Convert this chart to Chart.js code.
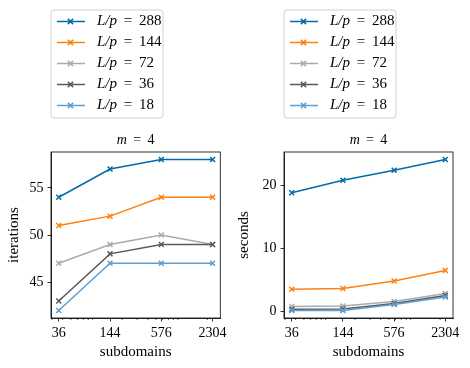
<!DOCTYPE html>
<html>
<head>
<meta charset="utf-8">
<script src="https://cdn.jsdelivr.net/npm/chart.js@4.4.0/dist/chart.umd.min.js"></script>
<style>
  body { margin: 0; background: #fff; }
  #wrap { position: relative; width: 470px; height: 368px; overflow: hidden; }
  canvas { position: absolute; top: 0; }
</style>
</head>
<body>
<div id="wrap">
  <canvas id="left" width="230" height="368" style="left:0"></canvas>
  <canvas id="right" width="240" height="368" style="left:230px"></canvas>
</div>
<script>
const subdomains = [36, 144, 576, 2304];
const ratios = ['288', '144', '72', '36', '18'];
const colors = ['#006BA4', '#FF800E', '#ABABAB', '#595959', '#5F9ED1'];

const iterations288 = [54, 57, 58, 58];
const iterations144 = [51, 52, 54, 54];
const iterations72 = [47, 49, 50, 49];
const iterations36 = [43, 48, 49, 49];
const iterations18 = [42, 47, 47, 47];

const seconds288 = [18.9, 20.9, 22.5, 24.2];
const seconds144 = [3.5, 3.6, 4.8, 6.5];
const seconds72 = [0.75, 0.8, 1.55, 2.8];
const seconds36 = [0.3, 0.35, 1.2, 2.5];
const seconds18 = [0.1, 0.1, 1.05, 2.25];

const iterTicks = [45, 50, 55];
const secTicks = [0, 10, 20];
const minorX = [30, 40, 50, 60, 70, 80, 90, 200, 300, 400, 500, 600, 700, 800, 900, 2000];

const SERIF = '"Liberation Serif", "DejaVu Serif", serif';
const EQ = '\u2009 = \u2009';

// draws pieces of text with their own style, left to right
function drawRich(ctx, parts, x, y, size, align) {
  let total = 0;
  parts.forEach(p => {
    ctx.font = (p[1] ? 'italic ' : '') + size + 'px ' + SERIF;
    total += ctx.measureText(p[0]).width;
  });
  let cx = align === 'center' ? x - total / 2 : x;
  ctx.textBaseline = 'middle';
  ctx.textAlign = 'left';
  parts.forEach(p => {
    ctx.font = (p[1] ? 'italic ' : '') + size + 'px ' + SERIF;
    ctx.fillText(p[0], cx, y);
    cx += ctx.measureText(p[0]).width;
  });
}

function roundRect(ctx, x, y, w, h, r) {
  ctx.beginPath();
  ctx.moveTo(x + r, y);
  ctx.lineTo(x + w - r, y);
  ctx.quadraticCurveTo(x + w, y, x + w, y + r);
  ctx.lineTo(x + w, y + h - r);
  ctx.quadraticCurveTo(x + w, y + h, x + w - r, y + h);
  ctx.lineTo(x + r, y + h);
  ctx.quadraticCurveTo(x, y + h, x, y + h - r);
  ctx.lineTo(x, y + r);
  ctx.quadraticCurveTo(x, y, x + r, y);
  ctx.closePath();
}

const decorPlugin = {
  id: 'decor',
  afterDraw(chart) {
    const ctx = chart.ctx;
    const a = chart.chartArea;
    const xs = chart.scales.x;
    ctx.save();

    // frame
    ctx.strokeStyle = '#000';
    ctx.lineWidth = 0.8;
    ctx.strokeRect(a.left, a.top, a.right - a.left, a.bottom - a.top);

    // minor ticks on the log axis
    ctx.lineWidth = 0.6;
    minorX.forEach(v => {
      const px = xs.getPixelForValue(v);
      if (px < a.left || px > a.right) return;
      ctx.beginPath();
      ctx.moveTo(px, a.bottom);
      ctx.lineTo(px, a.bottom + 2);
      ctx.stroke();
    });

    // title
    ctx.fillStyle = '#000';
    drawRich(ctx, [['m', true], [EQ + '4', false]], (a.left + a.right) / 2, a.top - 12, 14, 'center');

    // legend
    const lx = a.left, ly = 10, lw = 112, lh = 108;
    roundRect(ctx, lx, ly, lw, lh, 3);
    ctx.fillStyle = 'rgba(255,255,255,0.8)';
    ctx.fill();
    ctx.strokeStyle = '#d0d0d0';
    ctx.lineWidth = 1;
    ctx.stroke();
    chart.data.datasets.forEach((ds, i) => {
      const y = ly + 11.5 + i * 21;
      ctx.strokeStyle = ds.borderColor;
      ctx.lineWidth = 1.5;
      ctx.beginPath();
      ctx.moveTo(lx + 6, y);
      ctx.lineTo(lx + 34, y);
      ctx.stroke();
      const mx = lx + 19.5, r = 2.6;
      ctx.beginPath();
      ctx.moveTo(mx - r, y - r); ctx.lineTo(mx + r, y + r);
      ctx.moveTo(mx - r, y + r); ctx.lineTo(mx + r, y - r);
      ctx.stroke();
      ctx.fillStyle = '#000';
      drawRich(ctx, [['L/p', true], [EQ + ratios[i], false]], lx + 46, y, 15, 'left');
    });
    ctx.restore();
  }
};

function makeChart(id, series, ticks, yMin, yMax, yTitle, yWidth, padRight) {
  const datasets = series.map((vals, i) => ({
    label: 'L/p = ' + ratios[i],
    data: vals.map((v, j) => ({ x: subdomains[j], y: v })),
    borderColor: colors[i],
    backgroundColor: colors[i],
    borderWidth: 1.5,
    pointStyle: 'crossRot',
    pointRadius: 3.5,
    pointBorderWidth: 1.5,
    tension: 0,
    order: series.length - i
  }));
  return new Chart(document.getElementById(id), {
    type: 'line',
    data: { datasets },
    options: {
      responsive: false,
      animation: false,
      layout: { padding: { top: 152, right: padRight, bottom: 0, left: 0 } },
      plugins: { legend: { display: false }, tooltip: { enabled: false } },
      scales: {
        x: {
          type: 'logarithmic',
          min: 29.2,
          max: 2837,
          afterBuildTicks: s => { s.ticks = subdomains.map(v => ({ value: v })); },
          afterFit: s => { s.height = 50; },
          ticks: {
            color: '#000',
            font: { family: SERIF, size: 14 },
            padding: 3,
            maxRotation: 0,
            callback: v => String(v)
          },
          grid: { drawOnChartArea: false, drawTicks: true, tickLength: 3.5, tickColor: '#000', tickWidth: 0.8 },
          border: { display: true, color: '#000', width: 0.8 },
          title: { display: true, text: 'subdomains', color: '#000', font: { family: SERIF, size: 15 }, padding: { top: 0, bottom: 7 } }
        },
        y: {
          type: 'linear',
          min: yMin,
          max: yMax,
          afterBuildTicks: s => { s.ticks = ticks.map(v => ({ value: v })); },
          afterFit: s => { s.width = yWidth; },
          ticks: {
            color: '#000',
            font: { family: SERIF, size: 14 },
            padding: 4
          },
          grid: { drawOnChartArea: false, drawTicks: true, tickLength: 3.5, tickColor: '#000', tickWidth: 0.8 },
          border: { display: true, color: '#000', width: 0.8 },
          title: { display: true, text: yTitle, color: '#000', font: { family: SERIF, size: 15 }, padding: { top: 5, bottom: 0 } }
        }
      }
    },
    plugins: [decorPlugin]
  });
}

makeChart('left',
  [iterations288, iterations144, iterations72, iterations36, iterations18],
  iterTicks, 41.2, 58.8, 'iterations', 51, 9);

makeChart('right',
  [seconds288, seconds144, seconds72, seconds36, seconds18],
  secTicks, -1.1, 25.4, 'seconds', 54, 17);
</script>
</body>
</html>
